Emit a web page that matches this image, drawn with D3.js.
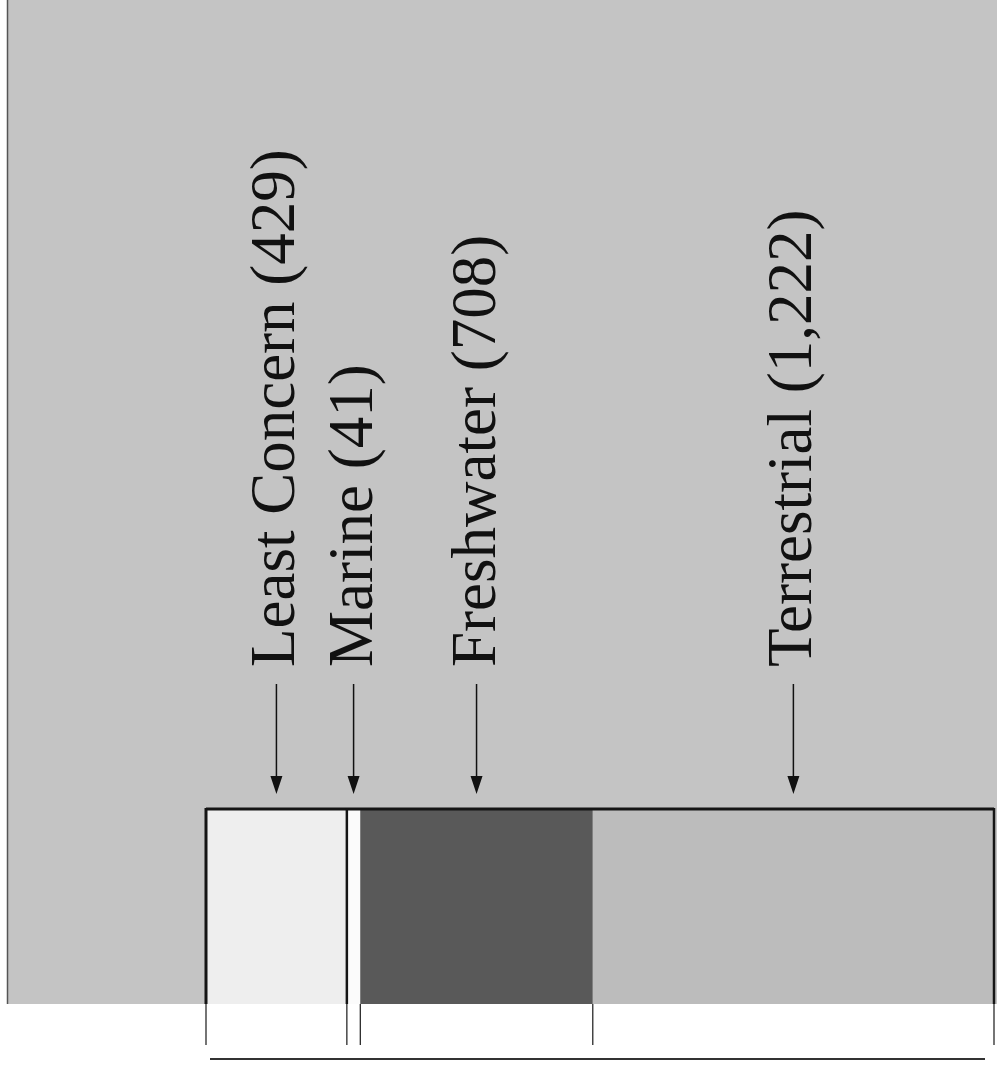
<!DOCTYPE html>
<html>
<head>
<meta charset="utf-8">
<script src="https://cdn.jsdelivr.net/npm/d3@7/dist/d3.min.js"></script>
<style>
  html, body { margin: 0; padding: 0; background: #ffffff; }
  svg { display: block; }
</style>
</head>
<body>
<svg id="chart" width="997" height="1067"></svg>
<script>
// ---- data ----
const categories = ["Least Concern", "Marine", "Freshwater", "Terrestrial"];
const values = [429, 41, 708, 1222];
const fills = ["#eeeeee", "#fbfbfb", "#595959", "#bcbcbc"];

const svg = d3.select("#chart");
const W = 997, H = 1067;

// background panel
svg.append("rect").attr("x", 7).attr("y", 0).attr("width", W - 7).attr("height", 1004)
  .attr("fill", "#c4c4c4");
svg.append("line").attr("x1", 7.5).attr("x2", 7.5).attr("y1", 0).attr("y2", 1004)
  .attr("stroke", "#555").attr("stroke-width", 1.5);

// scales
const total = d3.sum(values);
const x = d3.scaleLinear().domain([0, total]).range([206, 994]);
const y = d3.scaleBand().domain(["all"]).range([808, 1004]).padding(0);

// stacked segments
let acc = 0;
const segs = categories.map((c, i) => {
  const s = { name: c, value: values[i], start: acc, end: acc + values[i], fill: fills[i] };
  acc += values[i];
  return s;
});

svg.selectAll("rect.seg").data(segs).join("rect")
  .attr("class", "seg")
  .attr("x", d => x(d.start))
  .attr("y", y("all"))
  .attr("width", d => x(d.end) - x(d.start))
  .attr("height", y.bandwidth())
  .attr("fill", d => d.fill);

// top border of bar
svg.append("line").attr("x1", x(0)).attr("x2", x(total))
  .attr("y1", y("all") + 1).attr("y2", y("all") + 1)
  .attr("stroke", "#151515").attr("stroke-width", 3);

// boundary lines (within bar and extended below)
const bounds = [0, segs[0].end, segs[1].end, segs[2].end, total];
svg.selectAll("line.bound-in").data(bounds).join("line")
  .attr("class", "bound-in")
  .attr("x1", d => x(d)).attr("x2", d => x(d))
  .attr("y1", y("all")).attr("y2", y("all") + y.bandwidth())
  .attr("stroke", (d, i) => (i === 2 || i === 3) ? "none" : "#151515")
  .attr("stroke-width", (d, i) => i === 0 ? 3 : 2.5);
svg.selectAll("line.bound-out").data(bounds).join("line")
  .attr("class", "bound-out")
  .attr("x1", d => x(d)).attr("x2", d => x(d))
  .attr("y1", y("all") + y.bandwidth()).attr("y2", 1045)
  .attr("stroke", "#2a2a2a").attr("stroke-width", 1.3);

// bottom rule
svg.append("line").attr("x1", 210).attr("x2", 985).attr("y1", 1059).attr("y2", 1059)
  .attr("stroke", "#333").attr("stroke-width", 2);

// labels and arrows
const fmt = d3.format(",");
const labelG = svg.selectAll("g.lab").data(segs).join("g")
  .attr("class", "lab");

labelG.append("line")
  .attr("x1", d => (x(d.start) + x(d.end)) / 2)
  .attr("x2", d => (x(d.start) + x(d.end)) / 2)
  .attr("y1", 684).attr("y2", 780)
  .attr("stroke", "#111").attr("stroke-width", 1.5);

labelG.append("path")
  .attr("d", d => {
    const cx = (x(d.start) + x(d.end)) / 2;
    return `M${cx - 6},776 L${cx + 6},776 L${cx},794 Z`;
  })
  .attr("fill", "#111");

labelG.append("text")
  .attr("transform", d => `translate(${(x(d.start) + x(d.end)) / 2 + 18},667) rotate(-90)`)
  .attr("text-anchor", "start")
  .attr("font-family", "'Liberation Serif', 'Times New Roman', serif")
  .attr("font-size", 63)
  .attr("fill", "#111")
  .text(d => `${d.name} (${fmt(d.value)})`);
</script>
</body>
</html>
